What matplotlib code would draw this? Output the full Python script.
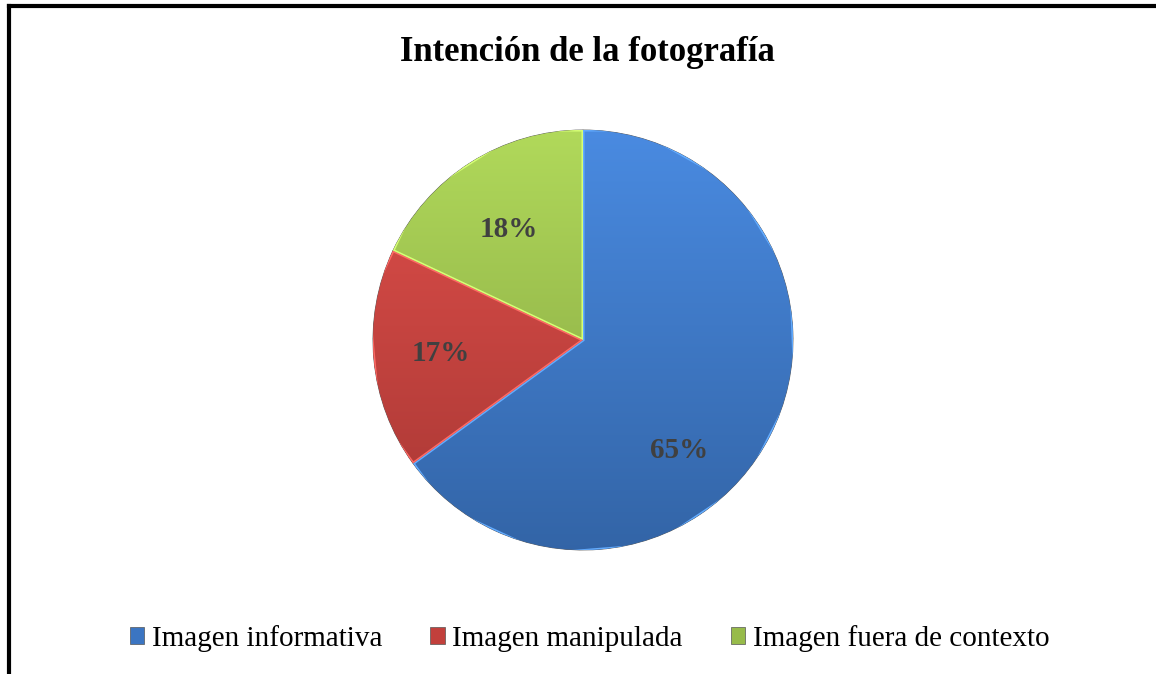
import matplotlib
matplotlib.use('Agg')
import matplotlib.pyplot as plt
import matplotlib.colors as mcolors
from matplotlib.lines import Line2D
import numpy as np

plt.rcParams['font.family'] = ['Liberation Serif', 'DejaVu Serif']

title = 'Intención de la fotografía'
categories = ['Imagen informativa', 'Imagen manipulada', 'Imagen fuera de contexto']
values = [65, 17, 18]
colors = ['#3B75C2', '#C2403C', '#97BB4A']

fig = plt.figure(figsize=(11.56, 6.74), dpi=100)

# frame of the chart area (only left and top edges are visible in the crop)
fig.add_artist(Line2D([0.0078, 0.0078], [0.0, 0.9911], color='black', lw=3.0,
                      transform=fig.transFigure, solid_capstyle='projecting'))
fig.add_artist(Line2D([0.0078, 1.0], [0.9911, 0.9911], color='black', lw=3.0,
                      transform=fig.transFigure, solid_capstyle='projecting'))

# pie axes: centre (583, 340) px, radius 210 px
ax = fig.add_axes([(583 - 210) / 1156, (674 - 340 - 210) / 674, 420 / 1156, 420 / 674])

wedges, texts, autotexts = ax.pie(
    values, colors=colors, startangle=90, counterclock=False,
    autopct='%1.0f%%', pctdistance=0.68,
    wedgeprops=dict(edgecolor='#5a5a5a', linewidth=0.6),
    textprops=dict(fontsize=21, fontweight='bold', color='#404040'))
ax.axis('off')

# vertical shading inside each slice to mimic the bevel look
yy = np.linspace(1, 0, 256).reshape(-1, 1)
for w, c in zip(wedges, colors):
    base = np.array(mcolors.to_rgb(c))
    light = np.clip(base * 1.12 + 0.03, 0, 1)
    dark = base * 0.86
    grad = light * yy[..., None] + dark * (1 - yy[..., None])
    grad = np.repeat(grad, 2, axis=1)
    im = ax.imshow(grad, extent=[-1, 1, -1, 1], aspect='auto', zorder=w.get_zorder() + 0.1)
    im.set_clip_path(w)
    edge = plt.Polygon(w.get_path().vertices, closed=True, fill=False,
                       edgecolor=np.clip(base * 1.25 + 0.1, 0, 1), lw=2.2,
                       zorder=w.get_zorder() + 0.2, transform=w.get_transform())
    edge.set_clip_path(w)
    ax.add_patch(edge)
ax.set_xlim(-1, 1)
ax.set_ylim(-1, 1)

for t in autotexts:
    t.set_zorder(5)
# Excel's "best fit" label placement (angle in degrees, radius fraction)
label_pos = [(-49, 0.70), None, (124, 0.635)]
for t, p in zip(autotexts, label_pos):
    if p is not None:
        a = np.deg2rad(p[0])
        t.set_position((p[1] * np.cos(a), p[1] * np.sin(a)))

fig.text(0.508, 0.922, title, ha='center', va='center', fontsize=25, fontweight='bold')

handles = [plt.Rectangle((0, 0), 1, 1, facecolor=c, edgecolor='#555555', lw=0.5) for c in colors]
fig.legend(handles, categories, loc='center', bbox_to_anchor=(0.51, 0.053), ncol=3,
           frameon=False, fontsize=21, handlelength=0.5, handleheight=0.5,
           handletextpad=0.25, columnspacing=1.65)

fig.savefig('out.png', dpi=100)
